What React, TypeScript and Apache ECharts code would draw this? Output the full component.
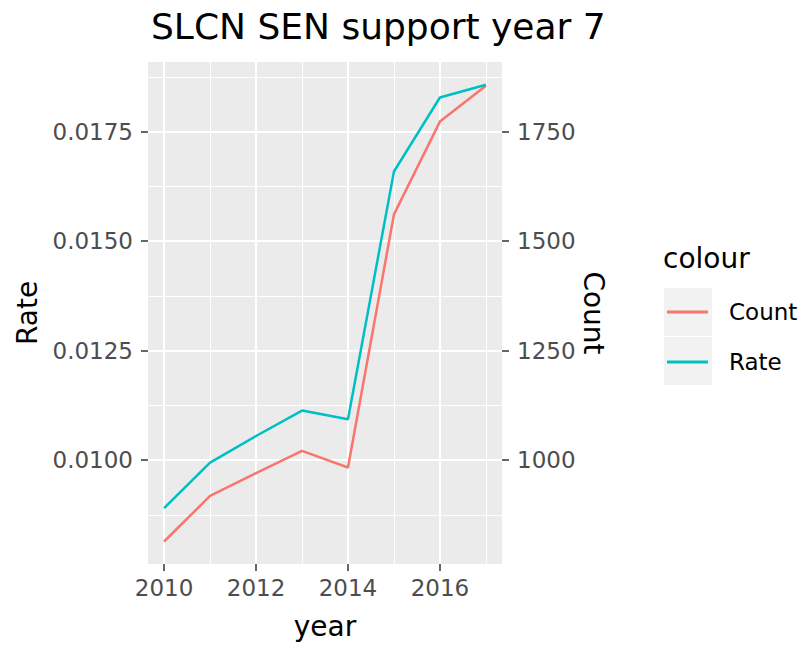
import React, { useEffect, useRef } from "react";
import * as echarts from "echarts";

const years = [2010, 2011, 2012, 2013, 2014, 2015, 2016, 2017];
const countValues = [814, 918, 970, 1021, 983, 1561, 1773, 1855];
const rateValues = [0.0089, 0.00994, 0.01055, 0.01113, 0.01093, 0.01659, 0.01828, 0.01857];

const xMajorTicks = [2010, 2012, 2014, 2016];
const xMinorTicks = [2011, 2013, 2015, 2017];
const rateTicks = [0.01, 0.0125, 0.015, 0.0175];
const rateMinorTicks = [0.00875, 0.01125, 0.01375, 0.01625, 0.01875];
const countTicks = [1000, 1250, 1500, 1750];

const FONT = "DejaVu Sans";
const RED = "#F8766D";
const CYAN = "#00BFC4";

const X_MIN = 2009.65;
const X_MAX = 2017.35;
const RATE_MIN = 0.007626;
const RATE_MAX = 0.019091;
const COUNT_MIN = 762.6;
const COUNT_MAX = 1909.1;

export default function App() {
  const ref = useRef<HTMLDivElement>(null);
  useEffect(() => {
    if (!ref.current) return;
    const chart = echarts.init(ref.current, null, { renderer: "svg" });
    const tickStyle = { color: "#333333", width: 1.5 };
    const hidden = { show: false };
    chart.setOption({
      animation: false,
      backgroundColor: "#ffffff",
      textStyle: { fontFamily: FONT },
      title: {
        text: "SLCN SEN support year 7",
        left: 151,
        top: 8,
        padding: 0,
        textStyle: { fontFamily: FONT, fontSize: 36, fontWeight: "normal", color: "#000" },
      },
      grid: {
        left: 148,
        right: 302,
        top: 62,
        bottom: 83,
        show: true,
        backgroundColor: "#EBEBEB",
        borderWidth: 0,
      },
      legend: {
        orient: "vertical",
        left: 667,
        top: 297,
        padding: 0,
        itemGap: 20,
        itemWidth: 41,
        itemHeight: 3,
        icon: "rect",
        data: ["Count", "Rate"],
        textStyle: {
          fontFamily: FONT,
          fontSize: 23,
          color: "#000",
          lineHeight: 30,
          padding: [0, 0, 0, 16],
        },
      },
      graphic: [
        { type: "rect", z: -1, shape: { x: 664, y: 288, width: 48, height: 48 }, style: { fill: "#F2F2F2" } },
        { type: "rect", z: -1, shape: { x: 664, y: 337, width: 48, height: 48 }, style: { fill: "#F2F2F2" } },
        {
          type: "text",
          x: 663,
          y: 258,
          style: { text: "colour", fontFamily: FONT, fontSize: 28, fill: "#000", verticalAlign: "middle" },
        },
      ],
      xAxis: [
        {
          type: "value",
          min: X_MIN,
          max: X_MAX,
          position: "bottom",
          axisLine: hidden,
          axisTick: { show: true, length: 7, lineStyle: tickStyle, customValues: xMajorTicks },
          axisLabel: {
            customValues: xMajorTicks,
            color: "#4D4D4D",
            fontSize: 23,
            fontFamily: FONT,
            margin: 12,
            formatter: (v: number) => String(v),
          },
          splitLine: { show: true, lineStyle: { color: "#ffffff", width: 2 } },
          name: "year",
          nameLocation: "middle",
          nameGap: 48,
          nameTextStyle: { fontSize: 28, color: "#000", fontFamily: FONT },
        },
        {
          type: "value",
          min: X_MIN,
          max: X_MAX,
          position: "bottom",
          axisLine: hidden,
          axisTick: { show: false, customValues: xMinorTicks },
          axisLabel: { show: false, customValues: xMinorTicks },
          splitLine: { show: true, lineStyle: { color: "#ffffff", width: 1 } },
        },
      ],
      yAxis: [
        {
          type: "value",
          min: RATE_MIN,
          max: RATE_MAX,
          position: "left",
          axisLine: hidden,
          axisTick: { show: true, length: 7, lineStyle: tickStyle, customValues: rateTicks },
          axisLabel: {
            customValues: rateTicks,
            color: "#4D4D4D",
            fontSize: 23,
            fontFamily: FONT,
            margin: 15,
            formatter: (v: number) => v.toFixed(4),
          },
          splitLine: { show: true, lineStyle: { color: "#ffffff", width: 2 } },
          name: "Rate",
          nameLocation: "middle",
          nameGap: 107,
          nameRotate: 90,
          nameTextStyle: { fontSize: 28, color: "#000", fontFamily: FONT },
        },
        {
          type: "value",
          min: COUNT_MIN,
          max: COUNT_MAX,
          position: "right",
          axisLine: hidden,
          axisTick: { show: true, length: 7, lineStyle: tickStyle, customValues: countTicks },
          axisLabel: {
            customValues: countTicks,
            color: "#4D4D4D",
            fontSize: 23,
            fontFamily: FONT,
            margin: 15,
            formatter: (v: number) => String(v),
          },
          splitLine: { show: false },
          name: "Count",
          nameLocation: "middle",
          nameGap: 77,
          nameRotate: -90,
          nameTextStyle: { fontSize: 28, color: "#000", fontFamily: FONT },
        },
        {
          type: "value",
          min: RATE_MIN,
          max: RATE_MAX,
          position: "left",
          axisLine: hidden,
          axisTick: { show: false, customValues: rateMinorTicks },
          axisLabel: { show: false, customValues: rateMinorTicks },
          splitLine: { show: true, lineStyle: { color: "#ffffff", width: 1 } },
        },
      ],
      series: [
        {
          name: "Count",
          type: "line",
          xAxisIndex: 0,
          yAxisIndex: 1,
          showSymbol: false,
          symbol: "none",
          lineStyle: { color: RED, width: 2.5 },
          itemStyle: { color: RED },
          data: years.map((y, i) => [y, countValues[i]]),
        },
        {
          name: "Rate",
          type: "line",
          xAxisIndex: 0,
          yAxisIndex: 0,
          showSymbol: false,
          symbol: "none",
          lineStyle: { color: CYAN, width: 2.5 },
          itemStyle: { color: CYAN },
          data: years.map((y, i) => [y, rateValues[i]]),
        },
      ],
    });
    return () => chart.dispose();
  }, []);
  return (
    <div
      ref={ref}
      style={{ position: "absolute", left: 0, top: 0, width: 804, height: 647 }}
    />
  );
}
